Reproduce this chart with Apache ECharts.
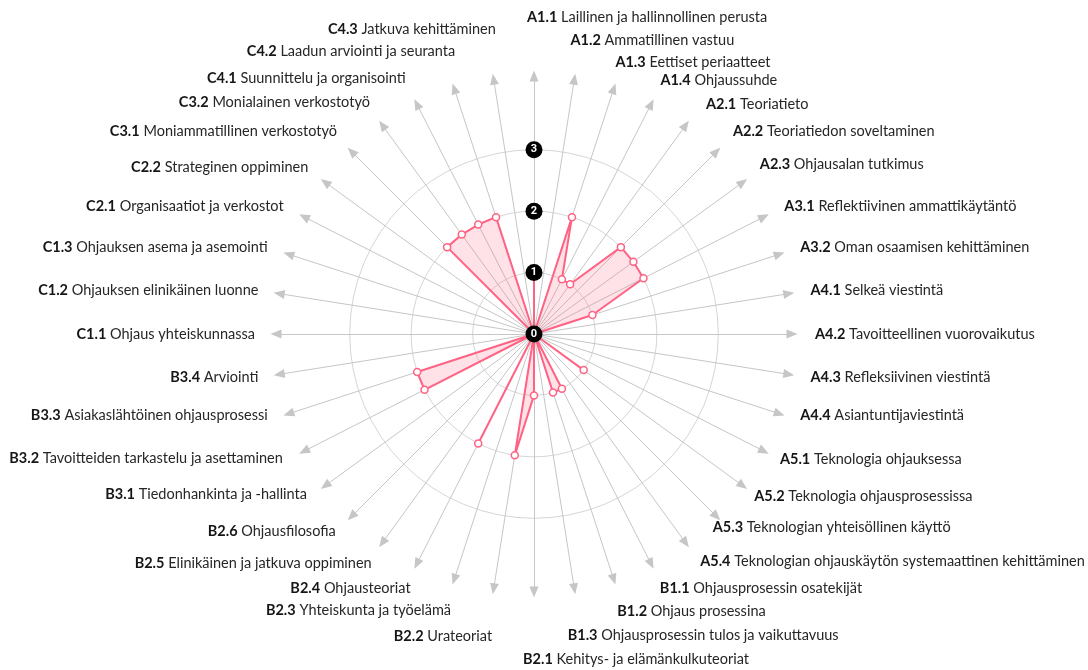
<!DOCTYPE html>
<html>
<head>
<meta charset="utf-8">
<script src="https://cdn.jsdelivr.net/npm/echarts@6/dist/echarts.min.js"></script>
<style>
  html, body { margin: 0; padding: 0; background: #fff; }
  #chart { width: 1088px; height: 670px; }
</style>
</head>
<body>
<div id="chart">Kaavion lataus epäonnistui</div>
<script>
  // osa-alueiden koodit ja nimet (myötäpäivään ylhäältä)
  const codes = [
    'A1.1', 'A1.2', 'A1.3', 'A1.4', 'A2.1', 'A2.2', 'A2.3', 'A3.1', 'A3.2',
    'A4.1', 'A4.2', 'A4.3', 'A4.4', 'A5.1', 'A5.2', 'A5.3', 'A5.4',
    'B1.1', 'B1.2', 'B1.3', 'B2.1', 'B2.2', 'B2.3', 'B2.4', 'B2.5', 'B2.6',
    'B3.1', 'B3.2', 'B3.3', 'B3.4',
    'C1.1', 'C1.2', 'C1.3', 'C2.1', 'C2.2', 'C3.1', 'C3.2', 'C4.1', 'C4.2', 'C4.3'
  ];
  const names = [
    'Laillinen ja hallinnollinen perusta', 'Ammatillinen vastuu', 'Eettiset periaatteet',
    'Ohjaussuhde', 'Teoriatieto', 'Teoriatiedon soveltaminen', 'Ohjausalan tutkimus',
    'Reflektiivinen ammattikäytäntö', 'Oman osaamisen kehittäminen',
    'Selkeä viestintä', 'Tavoitteellinen vuorovaikutus', 'Refleksiivinen viestintä',
    'Asiantuntijaviestintä', 'Teknologia ohjauksessa', 'Teknologia ohjausprosessissa',
    'Teknologian yhteisöllinen käyttö', 'Teknologian ohjauskäytön systemaattinen kehittäminen',
    'Ohjausprosessin osatekijät', 'Ohjaus prosessina', 'Ohjausprosessin tulos ja vaikuttavuus',
    'Kehitys- ja elämänkulkuteoriat', 'Urateoriat', 'Yhteiskunta ja työelämä',
    'Ohjausteoriat', 'Elinikäinen ja jatkuva oppiminen', 'Ohjausfilosofia',
    'Tiedonhankinta ja -hallinta', 'Tavoitteiden tarkastelu ja asettaminen',
    'Asiakaslähtöinen ohjausprosessi', 'Arviointi',
    'Ohjaus yhteiskunnassa', 'Ohjauksen elinikäinen luonne', 'Ohjauksen asema ja asemointi',
    'Organisaatiot ja verkostot', 'Strateginen oppiminen', 'Moniammatillinen verkostotyö',
    'Monialainen verkostotyö', 'Suunnittelu ja organisointi', 'Laadun arviointi ja seuranta',
    'Jatkuva kehittäminen'
  ];
  const scores = [
    1, 0, 2, 1, 1, 2, 2, 2, 1,
    0, 0, 0, 0, 0, 1, 0, 0,
    1, 1, 0, 1, 2, 0, 2, 0, 0,
    0, 2, 2, 0,
    0, 0, 0, 0, 0, 2, 2, 2, 2, 0
  ];
  const scaleTicks = [0, 1, 2, 3];
  const scaleMax = 4.2;
  const scaleSplit = 21;

  // nimien sijoittelu: etäisyys nuolesta, vaakasiirto ja nosto
  const nameGaps = [
    59, 39, 28, 27, 26, 29, 31, 23, 22, 22, 23, 22, 22, 18, 18, 16, 23, 28, 34, 47,
    67, 48, 33, 27, 25, 21, 14, 24, 22, 21, 21, 21, 22, 23, 26, 29, 28, 29, 39, 50
  ];
  const nameShift = [
    -7, -10, -7, -3, 5, -4, -8, 0, 0, 0, 0, 0, 0, 0, -3, -15, 1, -4, -7, -14,
    -11, 6, 7, 6, 4, -1, -7, 0, 0, 0, 0, 0, 0, 0, 4, 6, 4, 2, 13, 10
  ];
  const nameLift = [
    0, 0, 0, 0, 0, 0, 0, 0, 0, 0, 0, 0, 5, 0, 0, 0, 0, 0, 0, 0,
    0, 0, 0, 0, 0, 0, 0, 4, 5, 0, 0, 0, 0, 0, 0, 0, 0, 0, 0, 0
  ];

  const center = [534, 334];
  const radius = 258;
  const pink = '#ff6384';

  // echarts piirtää radarin vastapäivään -> käännetään järjestys (eka pysyy ylhäällä)
  const order = codes.map(function (c, k) { return k === 0 ? 0 : codes.length - k; });

  const ringColors = [];
  for (let i = 0; i <= scaleSplit; i++) {
    const v = i * scaleMax / scaleSplit;
    const isTick = Math.abs(v - Math.round(v)) < 1e-6 && v > 0 && v <= 3;
    ringColors.push(isTick ? '#d6d6d6' : 'rgba(0,0,0,0)');
  }

  const indicators = order.map(function (i) {
    const onRight = i <= 20;
    const dx = nameShift[i];
    const lift = nameLift[i] * 2;
    return {
      name: codes[i] + ' ' + names[i],
      min: 0,
      max: scaleMax,
      nameGap: nameGaps[i],
      nameTextStyle: {
        align: onRight ? 'left' : 'right',
        verticalAlign: 'middle',
        padding: onRight ? [0, 0, lift, dx] : [0, -dx, lift, 0]
      }
    };
  });

  const badgeIndicators = order.map(function (i) {
    return { name: codes[i], min: 0, max: scaleMax, axisLabel: { show: i === 0 } };
  });

  const myChart = echarts.init(document.getElementById('chart'));
  const option = {
    backgroundColor: '#fff',
    animation: false,
    radar: [
      {
        center: center,
        radius: radius,
        startAngle: 90,
        shape: 'circle',
        splitNumber: scaleSplit,
        indicator: indicators,
        axisName: {
          color: '#262626',
          fontFamily: 'Lato',
          fontSize: 14.5,
          formatter: function (name) {
            return name.replace(/^(\S+)/, '{c|$1}');
          },
          rich: {
            c: { fontWeight: 'bold', fontFamily: 'Lato', fontSize: 14.5, color: '#161616' }
          }
        },
        axisLine: {
          show: true,
          symbol: ['none', 'triangle'],
          symbolSize: [9, 11],
          lineStyle: { color: '#c6c6c6', width: 1 }
        },
        axisTick: { show: false },
        axisLabel: { show: false },
        splitArea: { show: false },
        splitLine: { lineStyle: { color: ringColors, width: 1 } }
      },
      {
        center: center,
        radius: radius,
        startAngle: 90,
        shape: 'circle',
        splitNumber: scaleSplit,
        z: 10,
        indicator: badgeIndicators,
        axisName: { show: false },
        axisLine: { show: false },
        axisTick: { show: false },
        splitLine: { show: false },
        splitArea: { show: false },
        axisLabel: {
          show: false,
          margin: 0,
          align: 'center',
          verticalAlign: 'middle',
          formatter: function (v) {
            const n = Math.round(v);
            if (Math.abs(v - n) < 1e-6 && scaleTicks.indexOf(n) >= 0) {
              return '{n|' + n + '}';
            }
            return '';
          },
          rich: {
            n: {
              backgroundColor: '#000',
              color: '#fff',
              fontFamily: 'Roboto',
              fontWeight: 'bold',
              fontSize: 11,
              width: 17,
              height: 17,
              lineHeight: 17,
              borderRadius: 9,
              align: 'center'
            }
          }
        }
      }
    ],
    series: [
      {
        type: 'radar',
        radarIndex: 0,
        symbol: 'circle',
        symbolSize: 7,
        lineStyle: { color: pink, width: 2 },
        areaStyle: { color: 'rgba(255,99,132,0.27)' },
        itemStyle: { color: '#fff', borderColor: pink, borderWidth: 1.5 },
        data: [{ value: order.map(function (i) { return scores[i]; }), name: 'Osaaminen' }]
      }
    ]
  };
  myChart.setOption(option);
</script>
</body>
</html>
